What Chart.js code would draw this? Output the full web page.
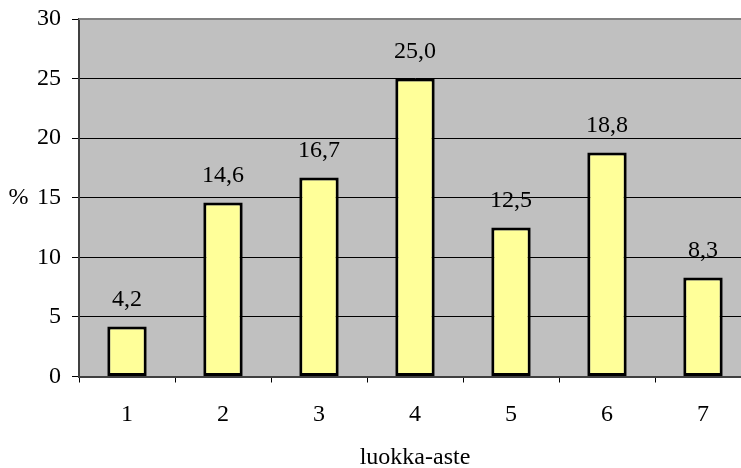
<!DOCTYPE html>
<html>
<head>
<meta charset="utf-8">
<script src="https://cdn.jsdelivr.net/npm/chart.js@4/dist/chart.umd.min.js"></script>
<style>
  html, body { margin: 0; padding: 0; background: #fff; overflow: hidden; }
  #wrap { width: 751px; height: 468px; }
</style>
</head>
<body>
<div id="wrap"><canvas id="c" width="751" height="468"></canvas></div>
<script>
// Grade levels and the share of respondents in each (%)
const categories = ['1', '2', '3', '4', '5', '6', '7'];
const shares = [4.2, 14.6, 16.7, 25.0, 12.5, 18.8, 8.3];
const yTicks = [0, 5, 10, 15, 20, 25, 30];

const FONT = '"Liberation Serif", "Times New Roman", serif';
const SIZE = 24;
const fmt = v => v.toFixed(1).replace('.', ',');

// Gray plot background and gray top frame line
const plotFrame = {
  id: 'plotFrame',
  beforeDraw(chart) {
    const { ctx, chartArea: a } = chart;
    ctx.save();
    ctx.fillStyle = '#C0C0C0';
    ctx.fillRect(a.left, a.top, a.right - a.left, a.bottom - a.top);
    ctx.restore();
  },
  beforeDatasetsDraw(chart) {
    const { ctx, chartArea: a } = chart;
    ctx.save();
    ctx.strokeStyle = '#808080';
    ctx.lineWidth = 2;
    ctx.beginPath();
    ctx.moveTo(a.left, a.top);
    ctx.lineTo(a.right, a.top);
    ctx.stroke();
    ctx.restore();
  }
};

// Value labels above bars and the unrotated "%" axis caption
const valueLabels = {
  id: 'valueLabels',
  afterDatasetsDraw(chart) {
    const { ctx } = chart;
    ctx.save();
    ctx.font = SIZE + 'px ' + FONT;
    ctx.fillStyle = '#000';
    ctx.textAlign = 'center';
    ctx.textBaseline = 'middle';
    chart.getDatasetMeta(0).data.forEach((bar, i) => {
      ctx.fillText(fmt(shares[i]), bar.x, bar.y - 27);
    });
    const y15 = chart.scales.y.getPixelForValue(15);
    ctx.fillText('%', 18.5, y15);
    ctx.restore();
  }
};

new Chart(document.getElementById('c'), {
  type: 'bar',
  data: {
    labels: categories,
    datasets: [{
      data: shares,
      backgroundColor: '#FFFF99',
      borderColor: '#000',
      borderWidth: 3,
      borderSkipped: false,
      barPercentage: 0.41,
      categoryPercentage: 1
    }]
  },
  options: {
    responsive: false,
    devicePixelRatio: 1,
    animation: false,
    layout: { padding: { top: 19, right: 0, bottom: 0, left: 0 } },
    plugins: { legend: { display: false }, tooltip: { enabled: false } },
    scales: {
      x: {
        grid: {
          offset: true,
          drawOnChartArea: false,
          tickLength: 6,
          tickColor: '#000',
          lineWidth: 1
        },
        border: { display: true, color: '#404040', width: 2 },
        ticks: { color: '#000', font: { family: FONT, size: SIZE }, padding: 18, maxRotation: 0 },
        title: {
          display: true,
          text: 'luokka-aste',
          color: '#000',
          font: { family: FONT, size: SIZE },
          padding: { top: 0, bottom: -4 }
        },
        afterFit(scale) {
          scale.height = 91.5;
          scale.paddingLeft = 0;
          scale.paddingRight = 0;
        }
      },
      y: {
        min: 0,
        max: 30,
        afterBuildTicks(scale) { scale.ticks = yTicks.map(v => ({ value: v })); },
        grid: {
          color: c => (c.tick && c.tick.value === 30) ? 'rgba(0,0,0,0)' : '#000',
          tickColor: '#000',
          tickLength: 7,
          lineWidth: 1
        },
        border: { display: true, color: '#404040', width: 2 },
        ticks: { color: '#000', font: { family: FONT, size: SIZE }, padding: 11 },
        afterFit(scale) {
          scale.width = 79;
          scale.paddingTop = 0;
          scale.paddingBottom = 0;
        }
      }
    }
  },
  plugins: [plotFrame, valueLabels]
});
</script>
</body>
</html>
